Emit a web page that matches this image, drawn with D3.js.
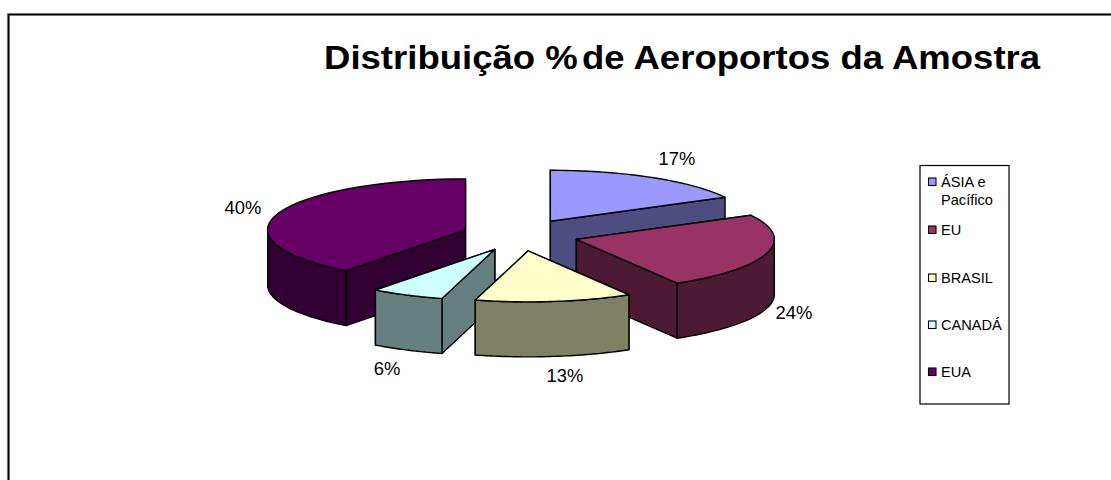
<!DOCTYPE html>
<html><head><meta charset="utf-8">
<style>html,body{margin:0;padding:0;background:#fff}svg{display:block}text{font-family:"Liberation Sans",Arial,sans-serif;fill:#000}</style>
<script src="https://cdn.jsdelivr.net/npm/d3@7"></script></head>
<body><svg id="c" width="1111" height="480"></svg>
<script>
const categories = ["ÁSIA e Pacífico","EU","BRASIL","CANADÁ","EUA"];
const shares = [17.2,24.3,12.8,6.0,39.7];
const topColors = ["#9999FF","#993366","#FFFFCC","#CCFFFF","#660066"];
const sideColors = ["#4D4D80","#4D1A33","#808066","#668080","#330033"];
const titleStart = "Distribuição %";
const titleEnd = "de Aeroportos da Amostra";

// layout
const W=1111,H=480;
const cx=520.5, cy=235, rx=198, ry=51, depth=55, explodeX=58, explodeY=16;
const drawOrder=[0,4,1,3,2];
const labelAt=[[677,165],[794,319],[565,382],[387,375],[243,214]];
const legendRows=[[187,205],[235],[283],[330],[377]];

const svg=d3.select("#c");
[["#999",3.2],["#000",1.5]].forEach(([col,w])=>{
  svg.append("path").attr("d",d3.line()([[8.5,H],[8.5,14.5],[W,14.5]])).attr("fill","none").attr("stroke",col).attr("stroke-width",w);
});

const title=svg.append("text").attr("transform","translate(324,69) scale(1.075,1)").attr("font-size",34).attr("font-weight","bold");
title.append("tspan").text(titleStart);
title.append("tspan").attr("dx",4).text(titleEnd);

const arcs=d3.pie().sort(null).value(d=>d)(shares);
const px=d3.scaleLinear().domain([-1,1]).range([-rx,rx]);
const py=d3.scaleLinear().domain([-1,1]).range([-ry,ry]);
const line=d3.line();
const pct=d3.format(".0f");
const g=svg.append("g");

function face(pts,fill){ g.append("path").attr("d",line(pts)+"Z").attr("fill",fill).attr("stroke","#000").attr("stroke-width",1.4).attr("stroke-linejoin","round"); }

drawOrder.forEach(i=>{
  const a=arcs[i], m=(a.startAngle+a.endAngle)/2;
  const ox=cx+explodeX*Math.sin(m), oy=cy-explodeY*Math.cos(m);
  const P=(t,dz=0)=>[ox+px(Math.sin(t)),oy+py(-Math.cos(t))+dz];
  const apex=[ox,oy], apexB=[ox,oy+depth];
  const ts=d3.range(0,41).map(k=>a.startAngle+(a.endAngle-a.startAngle)*k/40);
  [a.startAngle,a.endAngle].map(t=>({t,y:P(t)[1]})).sort((u,v)=>u.y-v.y).forEach(w=>{
    face([apex,P(w.t),P(w.t,depth),apexB],sideColors[i]);
  });
  const front=ts.filter(t=>Math.cos(t)<=0.0001);
  if(front.length>1){
    face(front.map(t=>P(t)).concat(front.slice().reverse().map(t=>P(t,depth))),sideColors[i]);
  }
  face([apex].concat(ts.map(t=>P(t))),topColors[i]);
});
arcs.forEach((a,i)=>{
  svg.append("text").attr("x",labelAt[i][0]).attr("y",labelAt[i][1]).attr("text-anchor","middle").attr("font-size",18.4).text(pct(a.value)+"%");
});

// legend
const lg=svg.append("g");
lg.append("rect").attr("x",920).attr("y",165.5).attr("width",89).attr("height",238.5).attr("fill","#fff").attr("stroke","#000").attr("stroke-width",1.2);
categories.forEach((c,i)=>{
  const base=legendRows[i];
  lg.append("rect").attr("x",928.5).attr("y",base[0]-9).attr("width",7.5).attr("height",7.5).attr("fill",topColors[i]).attr("stroke","#000").attr("stroke-width",1.1);
  const parts=i===0?["ÁSIA e","Pacífico"]:[c];
  parts.forEach((s,k)=>lg.append("text").attr("x",941).attr("y",base[k]).attr("font-size",14.6).text(s));
});
</script></body></html>
